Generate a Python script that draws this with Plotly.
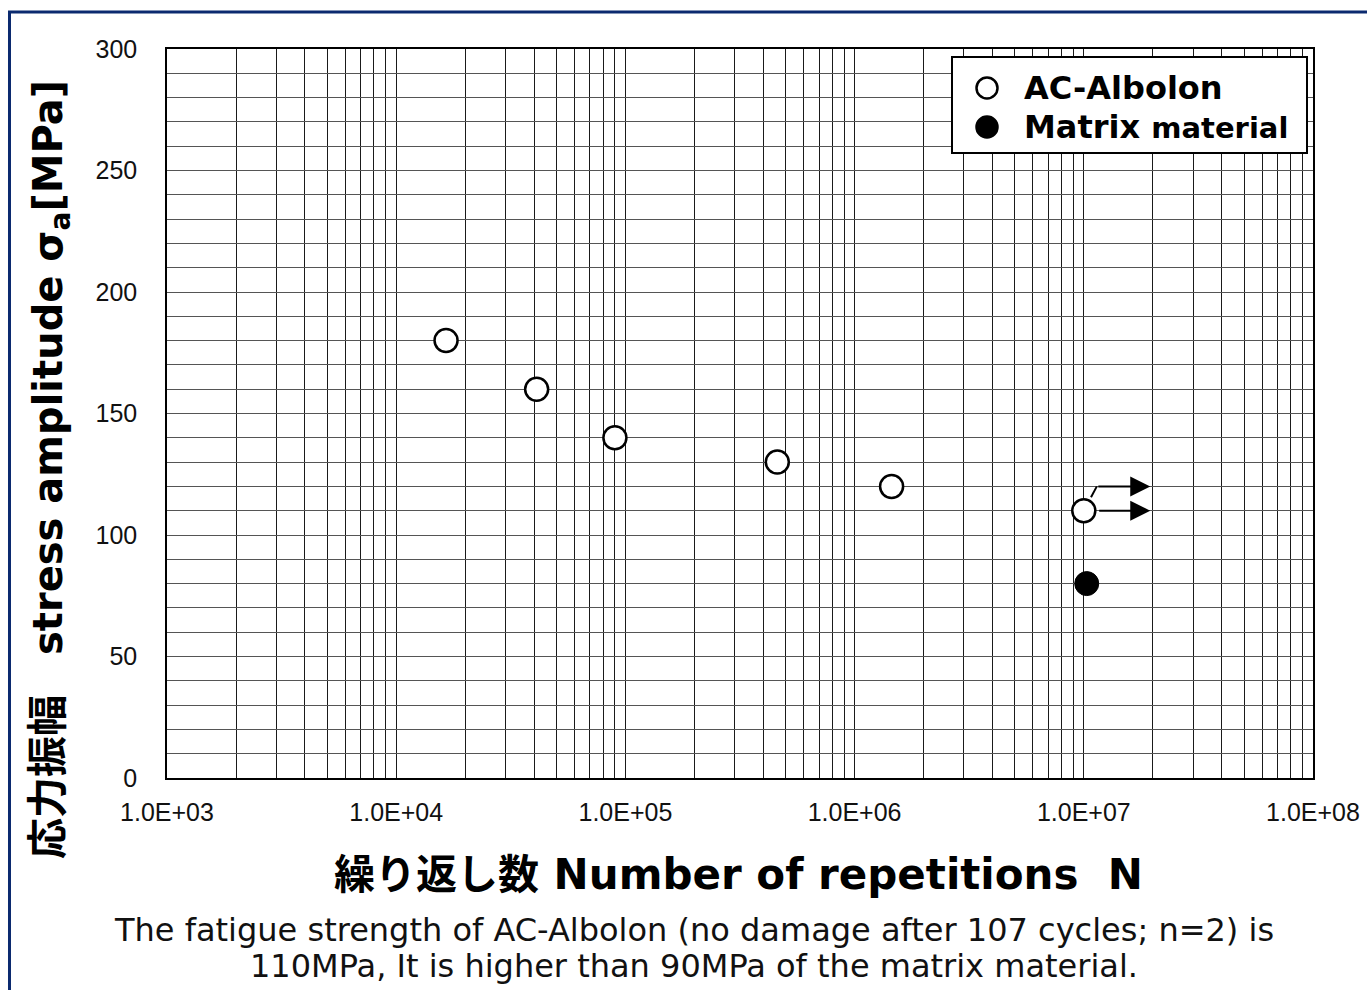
import math
import plotly.graph_objects as go

# ---------------- data ----------------
ac_N = [1.65e4, 4.1e4, 9.0e4, 4.6e5, 1.45e6, 1.0e7]
ac_S = [180, 160, 140, 130, 120, 110]
matrix_N = [1.03e7]
matrix_S = [80]

# run-out (no failure) arrows of AC-Albolon at 1e7 cycles, n=2
runout_levels = [120, 110]
runout_start_N = [1.14e7, 1.15e7]
runout_end_N = [1.95e7, 1.95e7]
kink_N = [1.075e7, 1.14e7]
kink_S = [115.5, 120]

decades = [3, 4, 5, 6, 7, 8]
x_tickvals = [m * 10 ** k for k in decades[:-1] for m in range(1, 10)] + [10 ** decades[-1]]
x_ticktext = [("1.0E+%02d" % round(math.log10(v))) if abs(math.log10(v) - round(math.log10(v))) < 1e-9 else "" for v in x_tickvals]
y_tickvals = list(range(0, 301, 10))
y_ticktext = [str(v) if v % 50 == 0 else "" for v in y_tickvals]

legend_names = ["AC-Albolon", "Matrix <span style='font-size:29px'>material</span>"]
caption_lines = [
    "The fatigue strength of AC-Albolon (no damage after 107 cycles; n=2) is",
    "110MPa, It is higher than 90MPa of the matrix material.",
]

# ---------------- layout geometry ----------------
W, H = 1367, 990
L, R, T, B = 167, 54, 49, 212
PW, PH = W - L - R, H - T - B


def px(x):
    return (x - L) / PW


def py(y):
    return (H - B - y) / PH


fig = go.Figure()

fig.add_trace(go.Scatter(
    x=ac_N, y=ac_S, mode="markers", name="AC-Albolon", showlegend=False,
    marker=dict(symbol="circle", size=23, color="white", line=dict(color="black", width=2.5)),
))
fig.add_trace(go.Scatter(
    x=matrix_N, y=matrix_S, mode="markers", name="Matrix material", showlegend=False,
    marker=dict(symbol="circle", size=24, color="black", line=dict(color="black", width=1)),
))
# kink of the upper run-out arrow
fig.add_trace(go.Scatter(
    x=kink_N, y=kink_S, mode="lines", showlegend=False, hoverinfo="skip",
    line=dict(color="black", width=2),
))

annotations = []
for lev, s, e in zip(runout_levels, runout_start_N, runout_end_N):
    annotations.append(dict(
        x=math.log10(e), y=lev, ax=math.log10(s), ay=lev, xref="x", yref="y",
        axref="x", ayref="y", text="", showarrow=True, arrowhead=2, arrowsize=2,
        arrowwidth=2, arrowcolor="black",
    ))

title_font = "DejaVu Sans, Noto Sans CJK JP, sans-serif"

# y-axis title
annotations.append(dict(
    x=px(50), y=py(470), xref="paper", yref="paper", textangle=-90,
    text="<b><span style='font-size:41px'>応力振幅</span>　stress amplitude σ<sub>a</sub>[MPa]</b>", showarrow=False,
    font=dict(family=title_font, size=40, color="black"),
    xanchor="center", yanchor="middle",
))
# x-axis title
annotations.append(dict(
    x=px(738), y=py(874), xref="paper", yref="paper",
    text="<b><span style='font-size:41px'>繰り返し数</span> Number of repetitions  N</b>", showarrow=False,
    font=dict(family=title_font, size=42, color="black"),
    xanchor="center", yanchor="middle",
))
# caption (two lines)
for line, yy in zip(caption_lines, [930, 966]):
    annotations.append(dict(
        x=px(694), y=py(yy), xref="paper", yref="paper", text=line,
        showarrow=False, align="center",
        font=dict(family=title_font, size=32, color="#111"),
        xanchor="center", yanchor="middle",
    ))

# manual legend
leg_x0, leg_x1, leg_y0, leg_y1 = 952, 1307, 57, 153
shapes = [
    dict(type="rect", xref="paper", yref="paper", x0=px(leg_x0), x1=px(leg_x1),
         y0=py(leg_y1), y1=py(leg_y0), line=dict(color="black", width=2), fillcolor="white", layer="above"),
]
leg_rows = [88, 127]
leg_fill = ["white", "black"]
for name, yy, fc in zip(legend_names, leg_rows, leg_fill):
    shapes.append(dict(
        type="circle", xref="paper", yref="paper", xsizemode="pixel", ysizemode="pixel",
        xanchor=px(987), yanchor=py(yy), x0=-10.5, x1=10.5, y0=-10.5, y1=10.5,
        line=dict(color="black", width=2.5), fillcolor=fc, layer="above",
    ))
    annotations.append(dict(
        x=px(1022), y=py(yy), xref="paper", yref="paper", text="<b>%s</b>" % name,
        showarrow=False, xanchor="left", yanchor="middle",
        font=dict(family=title_font, size=32, color="black"),
    ))

# outer navy frame (open at right/bottom as in the reference)
shapes.append(dict(
    type="path", xref="paper", yref="paper",
    path="M %f %f L %f %f L %f %f" % (px(9.5), py(1100), px(9.5), py(12), px(1400), py(12)),
    line=dict(color="#0b2a6f", width=3), layer="above",
))

axis_font = dict(family="Liberation Sans, Arial, sans-serif", size=25, color="#111")

fig.update_layout(
    width=W, height=H,
    margin=dict(l=L, r=R, t=T, b=B, autoexpand=False),
    paper_bgcolor="white", plot_bgcolor="white",
    xaxis=dict(
        type="log", range=[3, 8], tickmode="array", tickvals=x_tickvals, ticktext=x_ticktext,
        showgrid=True, gridcolor="#1a1a1a", gridwidth=1.2,
        showline=True, linecolor="black", linewidth=1.5, mirror=True,
        ticks="", tickfont=axis_font, ticklabelstandoff=11, automargin=False,
        zeroline=False,
    ),
    yaxis=dict(
        range=[0, 300], tickmode="array", tickvals=y_tickvals, ticktext=y_ticktext,
        showgrid=True, gridcolor="#555555", gridwidth=1,
        showline=True, linecolor="black", linewidth=1.5, mirror=True,
        ticks="", tickfont=axis_font, ticklabelstandoff=23, automargin=False,
        zeroline=False,
    ),
    annotations=annotations,
    shapes=shapes,
    showlegend=False,
)

fig.write_html(
    "out.html",
    config={"displayModeBar": False},
    post_script="document.body.style.margin='0';document.body.style.overflow='hidden';",
)
